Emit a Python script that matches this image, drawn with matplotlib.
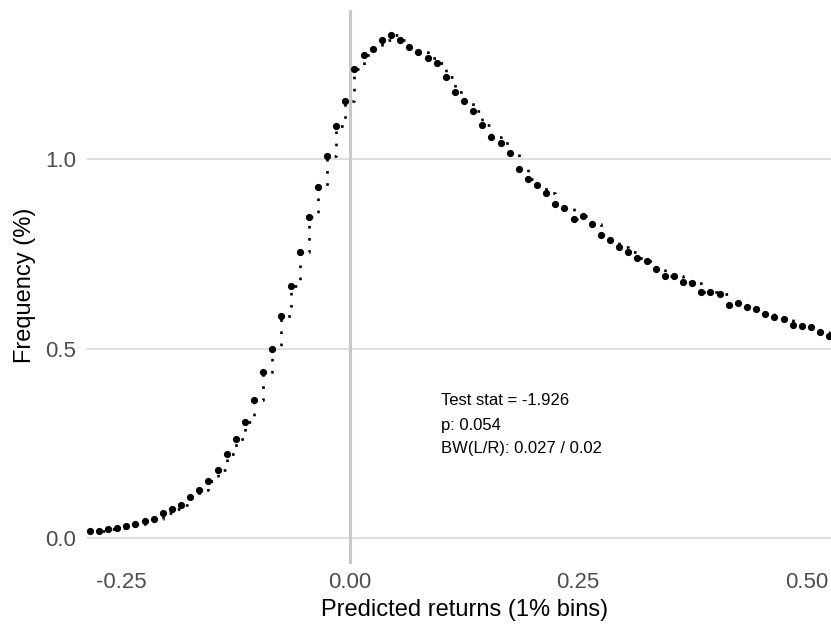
import matplotlib
matplotlib.use("Agg")
import matplotlib.pyplot as plt

plt.rcParams['font.family'] = ['Liberation Sans', 'DejaVu Sans']

# Bin midpoints (1% bins) and frequencies (%)
bin_mid = [-0.285, -0.275, -0.265, -0.255, -0.245, -0.235, -0.225, -0.215, -0.205, -0.195,
           -0.185, -0.175, -0.165, -0.155, -0.145, -0.135, -0.125, -0.115, -0.105, -0.095,
           -0.085, -0.075, -0.065, -0.055, -0.045, -0.035, -0.025, -0.015, -0.005, 0.005,
           0.015, 0.025, 0.035, 0.045, 0.055, 0.065, 0.075, 0.085, 0.095, 0.105,
           0.115, 0.125, 0.135, 0.145, 0.155, 0.165, 0.175, 0.185, 0.195, 0.205,
           0.215, 0.225, 0.235, 0.245, 0.255, 0.265, 0.275, 0.285, 0.295, 0.305,
           0.315, 0.325, 0.335, 0.345, 0.355, 0.365, 0.375, 0.385, 0.395, 0.405,
           0.415, 0.425, 0.435, 0.445, 0.455, 0.465, 0.475, 0.485, 0.495, 0.505,
           0.515, 0.525]
freq = [0.018, 0.019, 0.023, 0.027, 0.032, 0.037, 0.044, 0.051, 0.065, 0.076,
        0.088, 0.107, 0.127, 0.151, 0.179, 0.221, 0.261, 0.306, 0.365, 0.437,
        0.498, 0.586, 0.666, 0.754, 0.848, 0.927, 1.009, 1.087, 1.155, 1.238,
        1.276, 1.292, 1.315, 1.328, 1.316, 1.295, 1.283, 1.266, 1.253, 1.216,
        1.177, 1.154, 1.127, 1.091, 1.058, 1.043, 1.017, 0.973, 0.949, 0.933,
        0.911, 0.883, 0.871, 0.842, 0.850, 0.829, 0.799, 0.786, 0.767, 0.755,
        0.738, 0.731, 0.710, 0.692, 0.691, 0.677, 0.672, 0.649, 0.650, 0.644,
        0.614, 0.621, 0.609, 0.604, 0.591, 0.584, 0.577, 0.563, 0.559, 0.557,
        0.545, 0.533]

cutoff = 0.0
x_ticks = [-0.25, 0.0, 0.25, 0.50]
x_tick_labels = ["-0.25", "0.00", "0.25", "0.50"]
y_ticks = [0.0, 0.5, 1.0]
y_tick_labels = ["0.0", "0.5", "1.0"]
annot_lines = ["Test stat = -1.926", "p: 0.054", "BW(L/R): 0.027 / 0.02"]
annot_y = [0.362, 0.298, 0.235]

W, H = 831, 628
fig = plt.figure(figsize=(W / 100, H / 100), dpi=100)
ax = fig.add_axes([87 / W, 1 - 564 / H, (831 - 87) / W, (564 - 10) / H])

ax.set_xlim(-0.288, 0.527)
ax.set_ylim(-0.0687, 1.394)

for s in ax.spines.values():
    s.set_visible(False)

ax.set_yticks(y_ticks)
ax.set_yticklabels(y_tick_labels)
ax.set_xticks(x_ticks)
ax.set_xticklabels(x_tick_labels)
ax.tick_params(axis='both', length=0, labelsize=16, labelcolor='#4d4d4d')
ax.tick_params(axis='y', pad=8)
ax.tick_params(axis='x', pad=6)
ax.grid(axis='y', color='#dedede', linewidth=1.4)
ax.grid(axis='x', visible=False)
ax.set_axisbelow(True)

ax.axvline(cutoff, color='#c8c8c8', linewidth=2.2, zorder=1)

ax.plot(bin_mid, freq, drawstyle='steps-post', color='black', linewidth=1.9,
        linestyle=(0, (1, 3.6)), dash_capstyle='butt', zorder=2)
ax.scatter(bin_mid, freq, s=27, color='black', zorder=3, linewidths=0)

for txt, yv in zip(annot_lines, annot_y):
    ax.text(0.1, yv, txt, fontsize=12, color='black', ha='left', va='center')

ax.set_xlabel("Predicted returns (1% bins)", fontsize=17, color='black')
ax.xaxis.set_label_coords((465 - 87) / 744, -(610 - 564) / 554, transform=ax.transAxes)
ax.xaxis.label.set_va('center')
ax.set_ylabel("Frequency (%)", fontsize=17, color='black')
ax.yaxis.set_label_coords(-(87 - 25) / 744, (564 - 285) / 554, transform=ax.transAxes)
ax.yaxis.label.set_va('center')

fig.savefig("out.png", dpi=100)
